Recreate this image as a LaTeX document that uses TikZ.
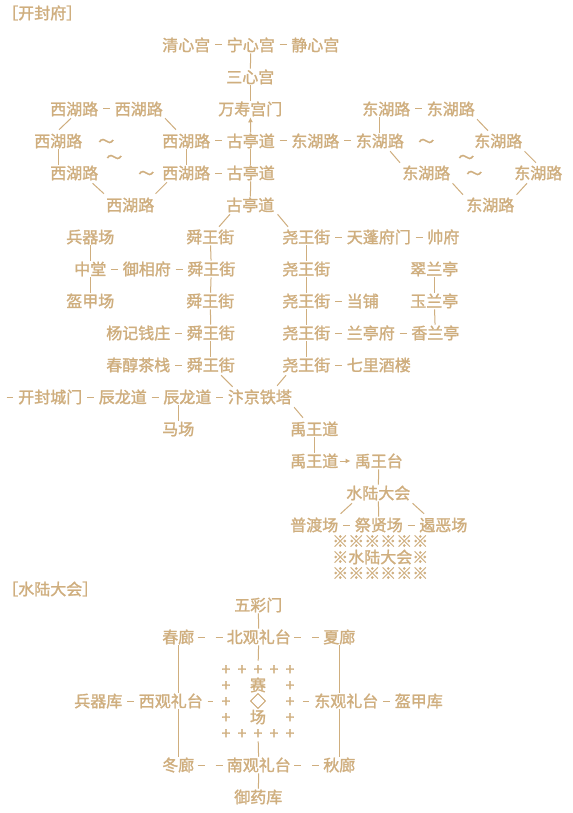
\documentclass[tikz,border=0pt]{standalone}
\usepackage{fontspec}
\newfontfamily\cjkfont{Noto Sans CJK SC}[FakeBold=1.5]
\usetikzlibrary{positioning, arrows.meta}
\usepackage{xcolor}
\definecolor{sand}{RGB}{207,174,126}

\begin{document}
\begin{tikzpicture}[
    x=0.75pt, y=-0.75pt,
    place/.style={inner sep=0pt, anchor=west, text=sand,
                  text height=10.56pt, text depth=1.44pt,
                  font=\cjkfont\fontsize{12}{12}\selectfont},
    cross/.style={place, anchor=center, minimum width=12pt},
    link/.style={draw=sand, line width=0.75pt},
    bar/.style={link, shorten <=3.4pt, shorten >=3.4pt},
    dbar/.style={link, shorten <=2.25pt, shorten >=3pt, dash pattern=on 5.25pt off 8.25pt},
    arrow/.style={link, -{Latex[length=3.75pt, width=3.75pt]}}
]
\fill[white] (0,0) rectangle (572,813);
\useasboundingbox (0,0) rectangle (572,813);

% Kaifeng: palace
\node[place] (hkf) at (2,13) {［开封府］};
\node[place] (qing) at (162,45) {清心宫};
\node[place, right=12pt of qing] (ning) {宁心宫};
\node[place, right=12pt of ning] (jing) {静心宫};
\node[place] (sanx) at (226,77) {三心宫};
\node[place] (wsm) at (218,109) {万寿宫门};

% West lake road
\node[place] (xa) at (50,109) {西湖路};
\node[place, right=12pt of xa] (xb) {西湖路};
\node[place] (xc) at (34,141) {西湖路};
\node[place] (xd) at (162,141) {西湖路};
\node[place] (xe) at (50,173) {西湖路};
\node[place] (xf) at (162,173) {西湖路};
\node[place] (xg) at (106,205) {西湖路};
\node[place] (w1) at (98,141) {～};
\node[place] (w2) at (106,157) {～};
\node[place] (w3) at (138,173) {～};

% Ancient pavilion road
\node[place, right=12pt of xd] (gt1) {古亭道};
\node[place, right=12pt of xf] (gt2) {古亭道};
\node[place] (gt3) at (226,205) {古亭道};

% East lake road
\node[place, right=12pt of gt1] (dc) {东湖路};
\node[place, right=12pt of dc] (dd) {东湖路};
\node[place] (da) at (362,109) {东湖路};
\node[place, right=12pt of da] (db) {东湖路};
\node[place] (de) at (474,141) {东湖路};
\node[place] (df) at (402,173) {东湖路};
\node[place] (dg) at (514,173) {东湖路};
\node[place] (dh) at (466,205) {东湖路};
\node[place] (w4) at (418,141) {～};
\node[place] (w5) at (458,157) {～};
\node[place] (w6) at (466,173) {～};

% Shun and Yao streets
\node[place] (bqc) at (66,237) {兵器场};
\node[place] (sw1) at (186,237) {舜王街};
\node[place] (yw1) at (282,237) {尧王街};
\node[place, right=12pt of yw1] (tpf) {天蓬府门};
\node[place, right=12pt of tpf] (shf) {帅府};
\node[place] (zt) at (74,269) {中堂};
\node[place, right=12pt of zt] (yxf) {御相府};
\node[place, right=12pt of yxf] (sw2) {舜王街};
\node[place] (yw2) at (282,269) {尧王街};
\node[place] (cl) at (410,269) {翠兰亭};
\node[place] (kjc) at (66,301) {盔甲场};
\node[place] (sw3) at (186,301) {舜王街};
\node[place] (yw3) at (282,301) {尧王街};
\node[place, right=12pt of yw3] (dp) {当铺};
\node[place] (yl) at (410,301) {玉兰亭};
\node[place] (yj) at (106,333) {杨记钱庄};
\node[place, right=12pt of yj] (sw4) {舜王街};
\node[place] (yw4) at (282,333) {尧王街};
\node[place, right=12pt of yw4] (ltf) {兰亭府};
\node[place, right=12pt of ltf] (xl) {香兰亭};
\node[place] (cc) at (106,365) {春醇茶栈};
\node[place, right=12pt of cc] (sw5) {舜王街};
\node[place] (yw5) at (282,365) {尧王街};
\node[place, right=12pt of yw5] (qlj) {七里酒楼};

% City gate and tower
\coordinate (kfl) at (2,397);
\node[place] (kfm) at (18,397) {开封城门};
\node[place, right=12pt of kfm] (cl1) {辰龙道};
\node[place, right=12pt of cl1] (cl2) {辰龙道};
\node[place, right=12pt of cl2] (bt) {汴京铁塔};
\node[place] (mc) at (162,429) {马场};
\node[place] (yu1) at (290,429) {禹王道};
\node[place] (yu2) at (290,461) {禹王道};
\node[place, right=12pt of yu2] (ywt) {禹王台};
\node[place] (slh) at (346,493) {水陆大会};
\node[place] (pd) at (290,525) {普渡场};
\node[place, right=12pt of pd] (jx) {祭贤场};
\node[place, right=12pt of jx] (ee) {遏恶场};
\node[place] (bn1) at (332,541) {※※※※※※};
\node[place] (bn2) at (332,557) {※水陆大会※};
\node[place] (bn3) at (332,573) {※※※※※※};

% Water and land assembly
\node[place] (hsl) at (2,589) {［水陆大会］};
\node[place] (wcm) at (234,605) {五彩门};
\node[place] (chl) at (162,637) {春廊};
\node[place, right=24pt of chl] (bg) {北观礼台};
\node[place, right=24pt of bg] (xial) {夏廊};
\node[place] (bqk) at (74,701) {兵器库};
\node[place, right=12pt of bqk] (xgl) {西观礼台};
\node[place] (dgl) at (314,701) {东观礼台};
\node[place, right=12pt of dgl] (kjk) {盔甲库};
\node[place] (dongl) at (162,765) {冬廊};
\node[place, right=24pt of dongl] (ng) {南观礼台};
\node[place, right=24pt of ng] (qiul) {秋廊};
\node[place] (yyk) at (234,797) {御药库};

% Arena
\node[cross] (p11) at (226,669) {+};
\node[cross] (p12) at (242,669) {+};
\node[cross] (p13) at (258,669) {+};
\node[cross] (p14) at (274,669) {+};
\node[cross] (p15) at (290,669) {+};
\node[cross] (p21) at (226,685) {+};
\node[cross] (p25) at (290,685) {+};
\node[cross] (p31) at (226,701) {+};
\node[cross] (p35) at (290,701) {+};
\node[cross] (p41) at (226,717) {+};
\node[cross] (p45) at (290,717) {+};
\node[cross] (p51) at (226,733) {+};
\node[cross] (p52) at (242,733) {+};
\node[cross] (p53) at (258,733) {+};
\node[cross] (p54) at (274,733) {+};
\node[cross] (p55) at (290,733) {+};
\node[cross] (sai) at (258,685) {赛};
\node[cross] (dia) at (258,701) {◇};
\node[cross] (chang) at (258,717) {场};

% Connectors: palace
\draw[bar] (qing) -- (ning);
\draw[bar] (ning) -- (jing);
\draw[link] (ning) -- (sanx);
\draw[link] (sanx) -- (wsm);
\draw[arrow] (gt1) -- (wsm);
\draw[link] (gt1) -- (gt2);
\draw[link] (gt2) -- (gt3);

% Connectors: west lake
\draw[bar] (xa) -- (xb);
\draw[bar] (xd) -- (gt1);
\draw[bar] (xf) -- (gt2);
\draw[link] ([shift={(21,1)}]xa.south west) -- ([shift={(25,-3)}]xc.north west);
\draw[link] ([shift={(2,1)}]xb.south east) -- ([shift={(14,-3)}]xd.north west);
\draw[link] ([shift={(24,0)}]xc.south west) -- ([shift={(8,0)}]xe.north west);
\draw[link] (xd) -- (xf);
\draw[link] ([shift={(-6,2)}]xe.south east) -- ([shift={(-2,-3)}]xg.north west);
\draw[link] ([shift={(5,1)}]xf.south west) -- ([shift={(1,-3)}]xg.north east);

% Connectors: east lake
\draw[bar] (gt1) -- (dc);
\draw[bar] (dc) -- (dd);
\draw[bar] (da) -- (db);
\draw[link] (dd |- da.south) -- (dd);
\draw[link] ([shift={(2,2)}]db.south east) -- ([shift={(14,-2)}]de.north west);
\draw[link] ([shift={(-14,2)}]dd.south east) -- ([shift={(-2,-2)}]df.north west);
\draw[link] ([shift={(2,2)}]de.south east) -- ([shift={(22,-2)}]dg.north west);
\draw[link] ([shift={(2,2)}]df.south east) -- ([shift={(-3,-2)}]dh.north west);
\draw[link] ([shift={(13,2)}]dg.south west) -- ([shift={(2,-2)}]dh.north east);

% Connectors: streets
\draw[link] ([shift={(4,1)}]gt3.south west) -- ([shift={(33,-2)}]sw1.north west);
\draw[link] ([shift={(3,1)}]gt3.south east) -- ([shift={(6,-2)}]yw1.north west);
\draw[bar] (yw1) -- (tpf);
\draw[bar] (tpf) -- (shf);
\draw[bar] (zt) -- (yxf);
\draw[bar] (yxf) -- (sw2);
\draw[bar] (yw3) -- (dp);
\draw[bar] (yj) -- (sw4);
\draw[bar] (yw4) -- (ltf);
\draw[bar] (ltf) -- (xl);
\draw[bar] (cc) -- (sw5);
\draw[bar] (yw5) -- (qlj);
\draw[link] (bqc) -- (zt);
\draw[link] (zt) -- (kjc);
\draw[link] (sw1) -- (sw2);
\draw[link] (sw2) -- (sw3);
\draw[link] (sw3) -- (sw4);
\draw[link] (sw4) -- (sw5);
\draw[link] (yw1) -- (yw2);
\draw[link] (yw2) -- (yw3);
\draw[link] (yw3) -- (yw4);
\draw[link] (yw4) -- (yw5);
\draw[link] (cl) -- (yl);
\draw[link] (yl) -- (xl);

% Connectors: gate and tower
\draw[link] ([shift={(-14,2)}]sw5.south east) -- ([shift={(5,-2)}]bt.north west);
\draw[link] ([shift={(4,2)}]yw5.south west) -- ([shift={(-15,-3)}]bt.north east);
\draw[bar] (kfl) -- (kfm);
\draw[bar] (kfm) -- (cl1);
\draw[bar] (cl1) -- (cl2);
\draw[bar] (cl2) -- (bt);
\draw[link] (cl2.south -| mc) -- (mc);
\draw[link] ([shift={(2,2)}]bt.south east) -- ([shift={(13,-3)}]yu1.north west);
\draw[link] (yu1) -- (yu2);
\draw[arrow, shorten <=0.75pt, shorten >=3pt] (yu2) -- (ywt);
\draw[link] (ywt) -- (slh);
\draw[link] ([shift={(6,2)}]slh.south west) -- ([shift={(2,-3)}]pd.north east);
\draw[link] (slh) -- (jx);
\draw[link] ([shift={(2,2)}]slh.south east) -- ([shift={(5,-3)}]ee.north west);
\draw[bar] (pd) -- (jx);
\draw[bar] (jx) -- (ee);

% Connectors: assembly
\draw[link] (wcm) -- (bg);
\draw[link] (bg) -- (p13);
\draw[link] (p53) -- (ng);
\draw[link] (ng) -- (yyk);
\draw[dbar] (chl) -- (bg);
\draw[dbar] (bg) -- (xial);
\draw[dbar] (dongl) -- (ng);
\draw[dbar] (ng) -- (qiul);
\draw[bar] (bqk) -- (xgl);
\draw[bar] (xgl) -- (p31);
\draw[bar] (p35) -- (dgl);
\draw[bar] (dgl) -- (kjk);
\draw[link] (chl) -- (chl |- xgl.north);
\draw[link] (chl |- xgl.south) -- (dongl);
\draw[link] (xial) -- (xial |- dgl.north);
\draw[link] (xial |- dgl.south) -- (qiul);

\end{tikzpicture}
\end{document}
